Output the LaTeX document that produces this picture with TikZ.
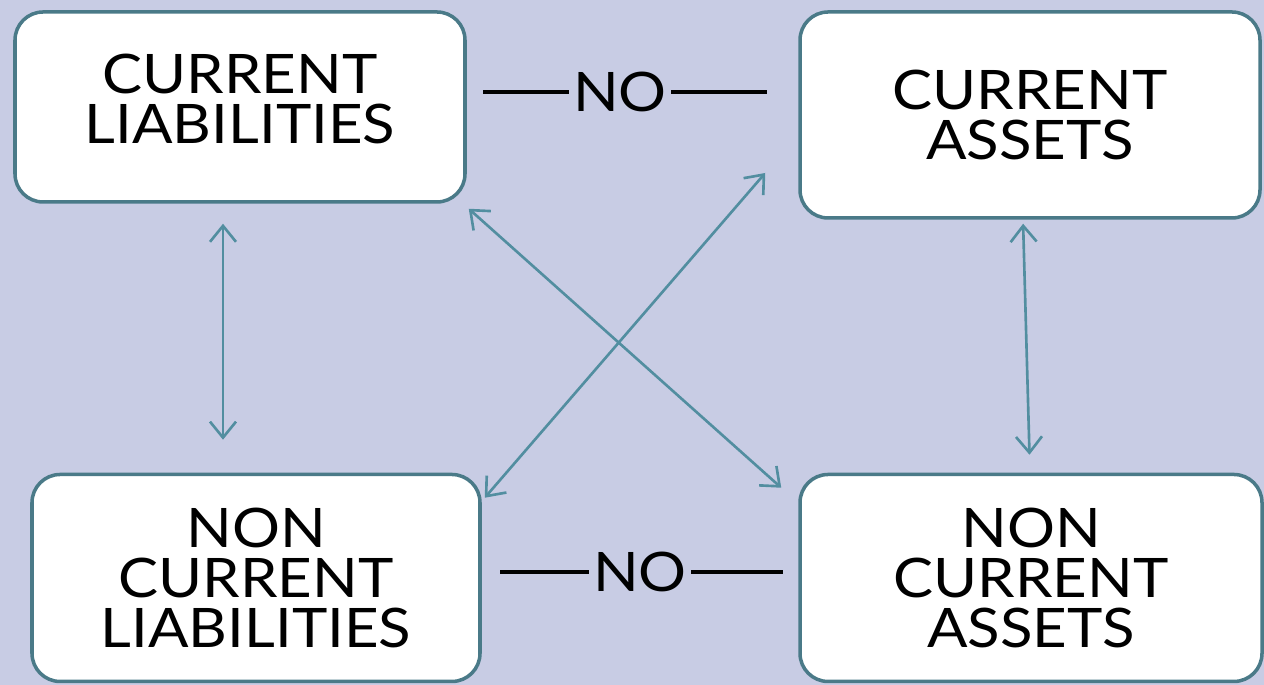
\documentclass[tikz,border=0pt]{standalone}
\usepackage{fontspec}
\setmainfont{Lato}[FakeStretch=1.1]
\usepackage{tikz}
\usetikzlibrary{shapes.geometric, arrows, arrows.meta}
\definecolor{bgblue}{RGB}{200,204,228}
\definecolor{edgeteal}{RGB}{74,122,136}
\definecolor{arrowteal}{RGB}{82,142,160}
\tikzstyle{box} = [draw=edgeteal, line width=1pt, fill=white, rounded corners=8pt, align=center, font=\fontsize{15.5}{14.2}\selectfont]
\tikzstyle{link} = [arrowteal, line width=0.75pt, {Straight Barb[length=1.6mm,width=2.6mm]}-{Straight Barb[length=1.6mm,width=2.6mm]}]
\tikzstyle{nolabel} = [inner sep=0pt, font=\fontsize{15.5}{14.2}\selectfont]
\tikzstyle{noline} = [line width=1.1pt]

\begin{document}
\begin{tikzpicture}
%background
\fill[bgblue] (0,0) rectangle (12.64,6.85);
\useasboundingbox (0,0) rectangle (12.64,6.85);
%boxes
\node[box, minimum width=4.50cm, minimum height=1.90cm] (cl) at (2.40,5.78) {CURRENT\\LIABILITIES\\[-9.6pt]};
\node[box, minimum width=4.60cm, minimum height=2.06cm] (ca) at (10.30,5.70) {CURRENT\\ASSETS};
\node[box, minimum width=4.48cm, minimum height=2.07cm] (ncl) at (2.56,1.07) {NON\\CURRENT\\LIABILITIES};
\node[box, minimum width=4.62cm, minimum height=2.07cm] (nca) at (10.31,1.07) {NON\\CURRENT\\ASSETS};
%no links
\node[nolabel] (notop) at (6.20,5.93) {NO};
\coordinate (notopl) at (4.83,5.93);
\coordinate (notopr) at (7.67,5.93);
\draw[noline] ([xshift=-1pt]notop.west) -- (notopl);
\draw[noline] ([xshift=1pt]notop.east) -- (notopr);
\node[nolabel] (nobot) at (6.40,1.13) {NO};
\coordinate (nobotl) at (5.00,1.13);
\coordinate (nobotr) at (7.83,1.13);
\draw[noline] ([xshift=-1pt]nobot.west) -- (nobotl);
\draw[noline] ([xshift=1pt]nobot.east) -- (nobotr);
%arrows
\draw[link, shorten <=0.2cm, shorten >=0.33cm] ([xshift=-0.17cm]cl.south) -- ([xshift=-0.33cm]ncl.north);
\draw[link, shorten <=0.04cm, shorten >=0.18cm] ([xshift=-0.07cm]ca.south) -- ([xshift=-0.01cm]nca.north);
\draw[link] ([shift={(0.02,-0.05)}]cl.south east) -- ([shift={(-0.17,-0.15)}]nca.north west);
\draw[link] ([shift={(-0.33,-0.58)}]ca.west) -- ([shift={(0.03,-0.25)}]ncl.north east);
\end{tikzpicture}
\end{document}
